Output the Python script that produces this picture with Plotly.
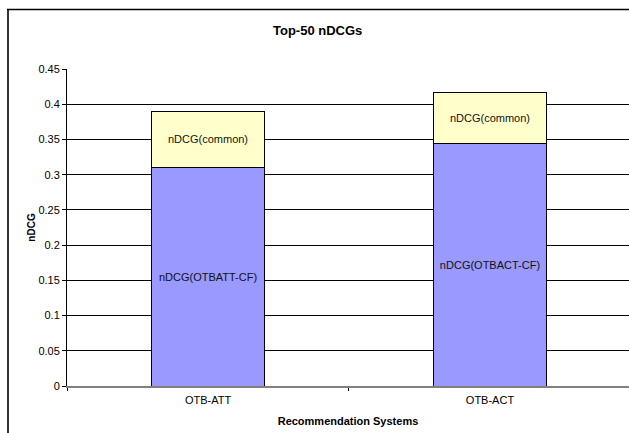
import plotly.graph_objects as go

categories = ["OTB-ATT", "OTB-ACT"]
cf_values = [0.31, 0.344]
common_values = [0.08, 0.072]
cf_labels = ["nDCG(OTBATT-CF)", "nDCG(OTBACT-CF)"]
common_labels = ["nDCG(common)", "nDCG(common)"]
y_ticks = [0, 0.05, 0.1, 0.15, 0.2, 0.25, 0.3, 0.35, 0.4, 0.45]

W, H = 629, 433
L, R, T, B = 67, 0, 69, 47
FONT = "Liberation Sans, Arial, sans-serif"

fig = go.Figure()
fig.add_trace(go.Bar(
    x=categories, y=cf_values, name="CF",
    marker=dict(color="#9999FF", line=dict(color="#000000", width=1)),
    width=0.4, text=cf_labels, textposition="inside", insidetextanchor="middle",
    textangle=0, textfont=dict(size=11, color="#111111", family=FONT),
    hoverinfo="skip",
))
fig.add_trace(go.Bar(
    x=categories, y=common_values, name="common",
    marker=dict(color="#FFFFCC", line=dict(color="#000000", width=1)),
    width=0.4, text=common_labels, textposition="inside", insidetextanchor="middle",
    textangle=0, textfont=dict(size=11, color="#111111", family=FONT),
    hoverinfo="skip",
))

pw = W - L - R
ph = H - T - B
def px_x(p):
    return (p - L) / pw
def px_y(p):
    return (H - B - p) / ph

fig.update_layout(
    width=W, height=H,
    margin=dict(l=L, r=R, t=T, b=B, pad=0),
    barmode="stack",
    showlegend=False,
    paper_bgcolor="white", plot_bgcolor="white",
    font=dict(family=FONT, size=11, color="#000000"),
    uniformtext=dict(minsize=8, mode="show"),
    title=dict(text="<b>Top-50 nDCGs</b>", x=0.505, xanchor="center",
               y=1 - 30 / H, yanchor="middle",
               font=dict(size=13, family=FONT, color="#000000")),
    xaxis=dict(
        type="category", range=[-0.5, 1.493],
        showline=True, linecolor="#808080", linewidth=2,
        ticks="outside", tickson="boundaries", ticklen=3, tickcolor="#000000",
        showgrid=False, tickfont=dict(size=11), ticklabelstandoff=3,
        title=dict(text="<b>Recommendation Systems</b>", font=dict(size=11), standoff=12),
    ),
    yaxis=dict(
        range=[0, 0.45], tickvals=y_ticks,
        showline=True, linecolor="#000000", linewidth=1,
        ticks="outside", ticklen=4, tickcolor="#000000",
        showgrid=True, gridcolor="#000000", gridwidth=1,
        zeroline=False, tickfont=dict(size=11),
        title=dict(text="<b>nDCG</b>", font=dict(size=10), standoff=0),
    ),
    shapes=[
        dict(type="line", xref="paper", yref="paper",
             x0=px_x(8), x1=px_x(8), y0=px_y(440), y1=px_y(9.5),
             line=dict(color="#333333", width=2)),
        dict(type="line", xref="paper", yref="paper",
             x0=px_x(7), x1=px_x(640), y0=px_y(9.5), y1=px_y(9.5),
             line=dict(color="#000000", width=1.5)),
    ],
)

fig.write_html("out.html")
